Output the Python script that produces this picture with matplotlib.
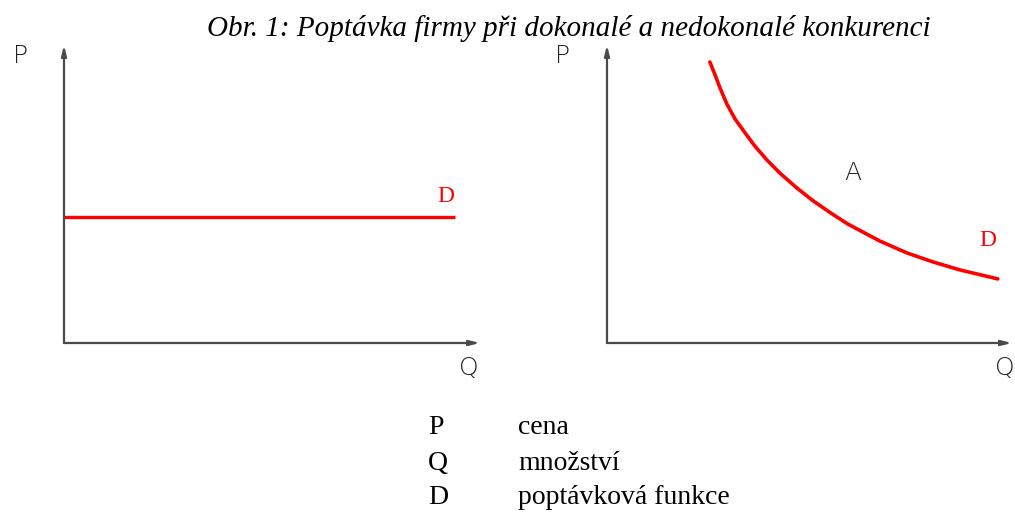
import numpy as np
import matplotlib.pyplot as plt

W, H = 1015, 524

title = "Obr. 1: Poptávka firmy při dokonalé a nedokonalé konkurenci"

# perfect competition: flat demand at one price level
flat_q = [0.0, 9.4]
flat_p = [4.23, 4.23]

# imperfect competition: downward sloping demand
curve_q = [2.54, 2.67, 2.79, 2.96, 3.16, 3.41, 3.65, 3.95, 4.27, 4.69,
           5.09, 5.56, 5.95, 6.17, 6.74, 7.41, 8.05, 8.72, 9.65]
curve_p = [9.43, 8.99, 8.56, 8.02, 7.52, 7.05, 6.61, 6.14, 5.70, 5.20,
           4.77, 4.33, 3.99, 3.83, 3.42, 3.02, 2.72, 2.45, 2.15]

legend_keys = ["P", "Q", "D"]
legend_vals = ["cena", "množství", "poptávková funkce"]

red = "#ff0000"
axis_col = "#4a4a4a"
stroke_font = "DejaVu Sans"
serif = "Liberation Serif"


def px_axes(fig, x0, y0, w, h):
    # axes placed by pixel box (origin at bottom-left of plot area)
    return fig.add_axes([x0 / W, 1 - y0 / H, w / W, h / H])


def draw_frame(ax):
    ax.set_xlim(0, 10)
    ax.set_ylim(0, 10)
    ax.axis("off")
    arrow = dict(arrowstyle="-|>,head_length=0.6,head_width=0.15", color=axis_col,
                 lw=1.6, shrinkA=0, shrinkB=0)
    ax.annotate("", xy=(0, 10), xytext=(0, 0), arrowprops=arrow, annotation_clip=False)
    ax.annotate("", xy=(10, 0), xytext=(0, 0), arrowprops=arrow, annotation_clip=False)


fig = plt.figure(figsize=(W / 100, H / 100), dpi=100)

left = px_axes(fig, 64, 343, 416, 298)
draw_frame(left)
left.plot(flat_q, flat_p, color=red, lw=2.4, solid_capstyle="butt")

right = px_axes(fig, 607, 343, 405, 298)
draw_frame(right)
right.plot(curve_q, curve_p, color=red, lw=2.6, solid_capstyle="round",
           solid_joinstyle="round")

# axis letters and curve labels
lbl = dict(family=stroke_font, weight="light", fontsize=18, color="#222222",
           ha="center", va="center")
fig.text(21 / W, 1 - 56 / H, "P", **lbl)
fig.text(563 / W, 1 - 56 / H, "P", **lbl)
fig.text(469 / W, 1 - 368 / H, "Q", **lbl)
fig.text(1005 / W, 1 - 368 / H, "Q", **lbl)
fig.text(853 / W, 1 - 173 / H, "A", **lbl)

dlbl = dict(family=serif, fontsize=17, color=red, ha="center", va="center")
fig.text(446 / W, 1 - 197 / H, "D", **dlbl)
fig.text(988 / W, 1 - 240 / H, "D", **dlbl)

fig.text(569 / W, 1 - 29 / H, title, family=serif, style="italic", fontsize=21,
         ha="center", va="center")

for i, (k, v) in enumerate(zip(legend_keys, legend_vals)):
    y = 1 - (428 + 35 * i) / H
    fig.text(428 / W, y, k, family=serif, fontsize=20, ha="left", va="center")
    fig.text(518 / W, y, v, family=serif, fontsize=20, ha="left", va="center")

fig.savefig("out.png", dpi=100, facecolor="white")
